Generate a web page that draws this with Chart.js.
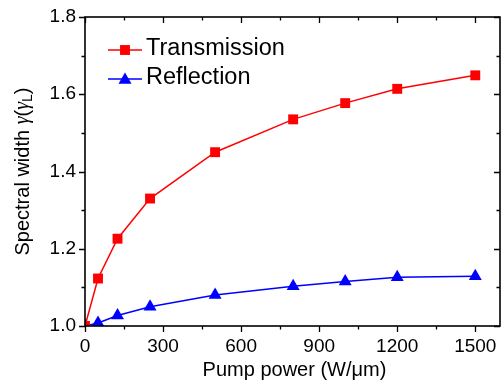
<!DOCTYPE html>
<html>
<head>
<meta charset="utf-8">
<script src="https://cdn.jsdelivr.net/npm/chart.js@4.4.0/dist/chart.umd.min.js"></script>
<style>
  html, body { margin: 0; padding: 0; background: #fff; }
  canvas { display: block; }
</style>
</head>
<body>
<canvas id="grafico" width="501" height="384"></canvas>
<script>
// datos
const potencia = [0, 50, 125, 250, 500, 800, 1000, 1200, 1500];
const transmision = [1.0, 1.123, 1.226, 1.330, 1.450, 1.535, 1.577, 1.614, 1.649];
const reflexion = [1.0, 1.008, 1.027, 1.050, 1.080, 1.103, 1.115, 1.126, 1.129];
const ticksX = [0, 300, 600, 900, 1200, 1500];
const ticksY = [1.0, 1.2, 1.4, 1.6, 1.8];
const nombres = ['Transmission', 'Reflection'];

const ROJO = '#ff0000';
const AZUL = '#0000ff';
const FUENTE = '"Liberation Sans", Arial, sans-serif';

// puntos intermedios para los ticks menores
function menores(arr) {
    const out = [];
    for (let i = 0; i < arr.length - 1; i++) out.push((arr[i] + arr[i + 1]) / 2);
    return out;
}

// marco, ticks, leyenda y titulos
const marcoEjes = {
    id: 'marcoEjes',
    afterDraw(chart) {
        const { ctx, chartArea: a, scales: { x, y } } = chart;
        ctx.save();
        ctx.strokeStyle = '#000';

        // ticks
        ctx.lineWidth = 1.3;
        ctx.beginPath();
        const tickX = (v, len) => {
            const px = Math.round(x.getPixelForValue(v)) + 0.5;
            ctx.moveTo(px, a.bottom); ctx.lineTo(px, a.bottom + len);
            ctx.moveTo(px, a.top); ctx.lineTo(px, a.top + len);
        };
        const tickY = (v, len) => {
            const py = Math.round(y.getPixelForValue(v)) + 0.5;
            ctx.moveTo(a.left, py); ctx.lineTo(a.left - len, py);
            ctx.moveTo(a.right, py); ctx.lineTo(a.right - len, py);
        };
        ticksX.forEach(v => tickX(v, 6));
        menores(ticksX).forEach(v => tickX(v, 3.5));
        ticksY.forEach(v => tickY(v, 6));
        menores(ticksY).forEach(v => tickY(v, 3.5));
        ctx.stroke();

        // marco
        ctx.lineWidth = 1.6;
        ctx.strokeRect(a.left, a.top, a.right - a.left, a.bottom - a.top);

        // leyenda
        const colores = [ROJO, AZUL];
        const estilos = ['rect', 'triangle'];
        const radios = [7, 7.5];
        const filas = [50, 79];
        ctx.font = '23.5px ' + FUENTE;
        ctx.textBaseline = 'middle';
        ctx.textAlign = 'left';
        nombres.forEach((n, i) => {
            ctx.strokeStyle = colores[i];
            ctx.lineWidth = 1.5;
            ctx.beginPath();
            ctx.moveTo(108, filas[i]);
            ctx.lineTo(142, filas[i]);
            ctx.stroke();
            ctx.fillStyle = colores[i];
            Chart.helpers.drawPoint(ctx, {
                pointStyle: estilos[i], radius: radios[i], rotation: 0, borderWidth: 0
            }, 125, filas[i] + (i === 1 ? 1 : 0));
            ctx.fillStyle = '#000';
            ctx.fillText(n, 146, filas[i] - 1);
        });

        // titulo eje x
        ctx.fillStyle = '#000';
        ctx.font = '20px ' + FUENTE;
        ctx.textAlign = 'center';
        ctx.textBaseline = 'middle';
        ctx.fillText('Pump power (W/\u03bcm)', (a.left + a.right) / 2 + 2, 370);

        // titulo eje y con subindice
        const partes = [
            { t: 'Spectral width ', f: '20px ' + FUENTE, dy: 0 },
            { t: '\u03b3', f: 'italic 20px "Liberation Serif", serif', dy: 0 },
            { t: '(', f: '20px ' + FUENTE, dy: 0 },
            { t: '\u03b3', f: 'italic 20px "Liberation Serif", serif', dy: 0 },
            { t: 'L', f: '14px ' + FUENTE, dy: 5 },
            { t: ')', f: '20px ' + FUENTE, dy: 0 }
        ];
        let total = 0;
        partes.forEach(p => { ctx.font = p.f; p.w = ctx.measureText(p.t).width; total += p.w; });
        ctx.translate(23, (a.top + a.bottom) / 2);
        ctx.rotate(-Math.PI / 2);
        ctx.textAlign = 'left';
        let cx = -total / 2;
        partes.forEach(p => {
            ctx.font = p.f;
            ctx.fillText(p.t, cx, p.dy);
            cx += p.w;
        });
        ctx.restore();
    }
};

new Chart(document.getElementById('grafico'), {
    type: 'line',
    data: {
        datasets: [
            {
                label: nombres[0],
                data: potencia.map((p, i) => ({ x: p, y: transmision[i] })),
                borderColor: ROJO,
                backgroundColor: ROJO,
                borderWidth: 1.5,
                pointStyle: 'rect',
                pointRadius: 7,
                pointBorderWidth: 0,
                tension: 0
            },
            {
                label: nombres[1],
                data: potencia.map((p, i) => ({ x: p, y: reflexion[i] })),
                borderColor: AZUL,
                backgroundColor: AZUL,
                borderWidth: 1.5,
                pointStyle: 'triangle',
                pointRadius: 7.5,
                pointBorderWidth: 0,
                tension: 0
            }
        ]
    },
    options: {
        responsive: false,
        animation: false,
        devicePixelRatio: 1,
        layout: { autoPadding: false, padding: { top: 17, right: 1, left: 0, bottom: 0 } },
        plugins: { legend: { display: false }, tooltip: { enabled: false } },
        scales: {
            x: {
                type: 'linear',
                min: 0,
                max: 1595,
                grid: { display: false, drawTicks: false },
                border: { display: false },
                afterBuildTicks: s => { s.ticks = ticksX.map(v => ({ value: v })); },
                afterFit: s => { s.height = 58; s.paddingLeft = 0; s.paddingRight = 0; },
                ticks: {
                    color: '#000',
                    padding: 9,
                    maxRotation: 0,
                    autoSkip: false,
                    font: { family: FUENTE, size: 19 },
                    callback: v => String(v)
                }
            },
            y: {
                min: 1.0,
                max: 1.8,
                grid: { display: false, drawTicks: false },
                border: { display: false },
                afterBuildTicks: s => { s.ticks = ticksY.map(v => ({ value: v })); },
                afterFit: s => { s.width = 85; s.paddingTop = 0; s.paddingBottom = 0; },
                ticks: {
                    color: '#000',
                    padding: 9,
                    autoSkip: false,
                    font: { family: FUENTE, size: 19 },
                    callback: v => v.toFixed(1)
                }
            }
        }
    },
    plugins: [marcoEjes]
});
</script>
</body>
</html>
